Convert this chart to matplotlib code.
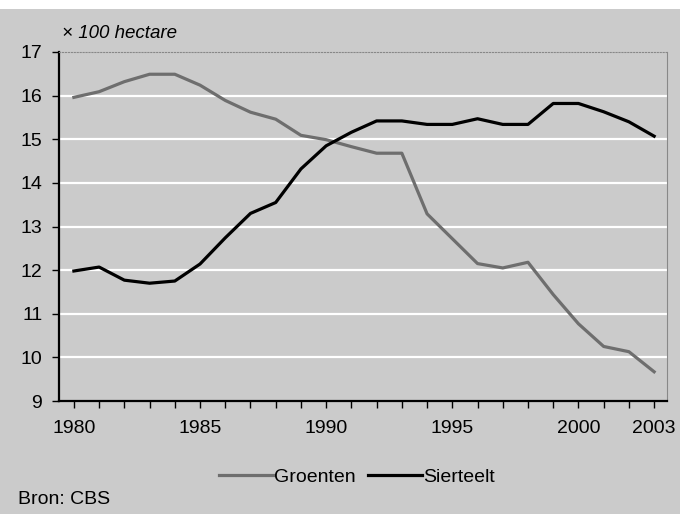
import matplotlib.pyplot as plt
import matplotlib.patches as patches
import numpy as np

plt.rcParams['font.family'] = ['Liberation Sans', 'DejaVu Sans']

jaren = list(range(1980, 2004))
groenten = [15.96, 16.09, 16.32, 16.49, 16.49, 16.24, 15.89, 15.62, 15.46, 15.09,
            14.99, 14.83, 14.68, 14.68, 13.29, 12.72, 12.15, 12.05, 12.18, 11.44,
            10.77, 10.25, 10.13, 9.67]
sierteelt = [11.98, 12.07, 11.77, 11.7, 11.75, 12.14, 12.74, 13.3, 13.55, 14.32,
             14.85, 15.16, 15.42, 15.42, 15.34, 15.34, 15.47, 15.34, 15.34, 15.82,
             15.82, 15.63, 15.4, 15.07]
xlabels = [1980, 1985, 1990, 1995, 2000, 2003]

grijs = '#cbcbcb'
fs = 14
fig = plt.figure(figsize=(6.8, 5.14), dpi=100)
fig.patch.set_facecolor(grijs)
# witte strook bovenaan
fig.patches.append(patches.Rectangle((0, 1 - 9/514), 1, 9/514, transform=fig.transFigure,
                                     facecolor='white', edgecolor='none', zorder=0))

ax = fig.add_axes([59/680, 1 - 401/514, 608/680, 349/514])
ax.set_facecolor(grijs)

ax.plot(jaren, groenten, color='#6e6e6e', lw=2.3, label='Groenten', zorder=3)
ax.plot(jaren, sierteelt, color='black', lw=2.3, label='Sierteelt', zorder=3)

ax.set_xlim(1979.41, 2003.51)
ax.set_ylim(9, 17)
ax.set_yticks(range(9, 18))
ax.set_xticks(jaren, minor=True)
ax.set_xticks(xlabels)
ax.tick_params(axis='both', labelsize=fs, length=5, width=1, color='black', direction='out')
ax.tick_params(axis='x', which='minor', length=5, width=1)
ax.tick_params(axis='x', pad=9)
ax.tick_params(axis='y', pad=7)

for y in range(10, 17):
    ax.axhline(y, color='white', lw=1.6, zorder=1)

ax.spines['left'].set_linewidth(1.6)
ax.spines['bottom'].set_linewidth(1.6)
ax.spines['top'].set_color('#888888')
ax.spines['top'].set_linestyle(':')
ax.spines['right'].set_color('#888888')

fig.text(62/680, 1 - 33/514, '× 100 hectare', fontsize=13.5, style='italic', va='center', ha='left')
fig.text(18/680, 1 - 499/514, 'Bron: CBS', fontsize=fs, va='center', ha='left')

fig.legend(loc='center', bbox_to_anchor=(357/680, 1 - 477/514), ncol=2, frameon=False,
           fontsize=fs, handlelength=2.8, handletextpad=0.05, columnspacing=0.6,
           borderpad=0, borderaxespad=0)

fig.savefig('out.png', dpi=100, facecolor=fig.get_facecolor())
